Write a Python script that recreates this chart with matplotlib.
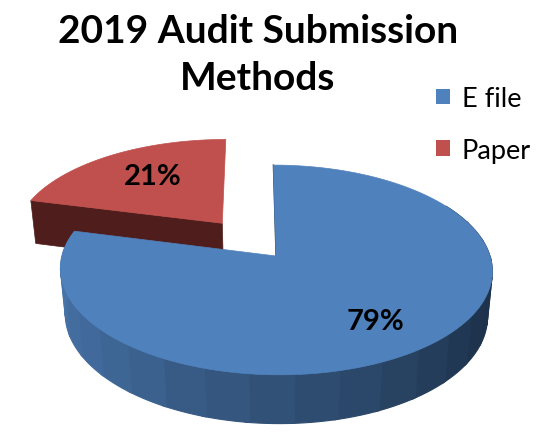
import numpy as np
import matplotlib
matplotlib.use("Agg")
import matplotlib.pyplot as plt
from matplotlib.patches import Patch
from matplotlib.colors import to_rgb

title = "2019 Audit Submission\nMethods"
categories = ["E file", "Paper"]
values = [79, 21]
top_colors = ["#4F81BD", "#C0504D"]
red_wall = "#4F1E1C"
explode = [0.0, 0.42]
blue_wall_stops = ["#1C3049", "#1D324B", "#2E4C70", "#3F6797", "#4A78B0"]

# perspective camera (pixels of the figure)
X0, Y0, A, B, D, K, M, SHEAR = 276, 257, 214, 103, 46, 0.133, 0.022, 3


def project(u, v, z=0.0):
    den = 1 + K * v + M * z
    return X0 + (A * u - SHEAR * v) / den, Y0 - B * v / den + D * z / den


def blend(t):
    pos = np.linspace(0, 1, len(blue_wall_stops))
    rgb = np.array([to_rgb(c) for c in blue_wall_stops])
    return tuple(np.interp(t, pos, rgb[:, i]) for i in range(3))


fig = plt.figure(figsize=(5.37, 4.35), dpi=100)
ax = fig.add_axes([0, 0, 1, 1])
ax.set_xlim(0, 537)
ax.set_ylim(435, 0)
ax.axis("off")

fracs = np.array(values) / sum(values)
edges = np.concatenate([[0], np.cumsum(fracs)]) * 2 * np.pi
font = ["Lato", "DejaVu Sans"]

# Paper slice (behind)
t0, t1 = edges[1], edges[2]
mid = (t0 + t1) / 2
ou, ov = explode[1] * np.sin(mid), explode[1] * np.cos(mid)
th = np.linspace(t0, t1, 80)
ru = np.concatenate([[ou], ou + np.sin(th)])
rv = np.concatenate([[ov], ov + np.cos(th)])
# cut face running from the rim corner to the apex
cu = np.array([ou + np.sin(t0), ou, ou, ou + np.sin(t0)])
cv = np.array([ov + np.cos(t0), ov, ov, ov + np.cos(t0)])
cz = np.array([0, 0, 1, 1])
ax.fill(*project(cu, cv, cz), color=red_wall, lw=0.5, zorder=1)
ax.fill(*project(ru, rv), color=top_colors[1], lw=0.5, zorder=2)

# E file slice: rim wall in angular bands, painted so each overlaps the previous
t0, t1 = edges[0], edges[1]
bands = np.linspace(np.radians(60), t1, 22)
for i, (a, b) in enumerate(zip(bands[:-1], bands[1:])):
    tt = np.linspace(a - 0.02, b, 8)
    u = np.concatenate([np.sin(tt), np.sin(tt[::-1])])
    v = np.concatenate([np.cos(tt), np.cos(tt[::-1])])
    z = np.concatenate([np.zeros(8), np.ones(8)])
    f = (((a + b) / 2) - bands[0]) / (bands[-1] - bands[0])
    col = blend(f)
    ax.fill(*project(u, v, z), facecolor=col, edgecolor=col, lw=0.8,
            zorder=3 + i * 0.01)

th = np.linspace(t0, t1, 300)
bu = np.concatenate([[0], np.sin(th)])
bv = np.concatenate([[0], np.cos(th)])
ax.fill(*project(bu, bv), color=top_colors[0], lw=0.5, zorder=4)
# thin dark cut edge at 12 o'clock
ax.plot(*project(np.array([0.0, 0.0]), np.array([0.0, 1.0])), color="#1C3049",
        lw=0.9, zorder=3.5)

# percentage labels
ax.text(376, 322, f"{values[0]}%", ha="center", va="center", fontsize=21,
        fontweight="bold", family=font, color="black", zorder=6)
ax.text(153, 177, f"{values[1]}%", ha="center", va="center", fontsize=21,
        fontweight="bold", family=font, color="black", zorder=6)

ax.text(258, 55, title, ha="center", va="center", fontsize=28, fontweight="bold",
        family=font, color="black", linespacing=1.42, zorder=6)

handles = [Patch(facecolor=c, edgecolor="none", label=l)
           for c, l in zip(top_colors, categories)]
ax.legend(handles=handles, loc="upper left", bbox_to_anchor=(436 / 537, 1 - 87 / 435),
          frameon=False, prop={"family": font, "size": 19.5}, handlelength=0.52,
          handleheight=0.52, handletextpad=0.44, labelspacing=0.98,
          borderpad=0, borderaxespad=0)

fig.savefig("out.png", dpi=100)
